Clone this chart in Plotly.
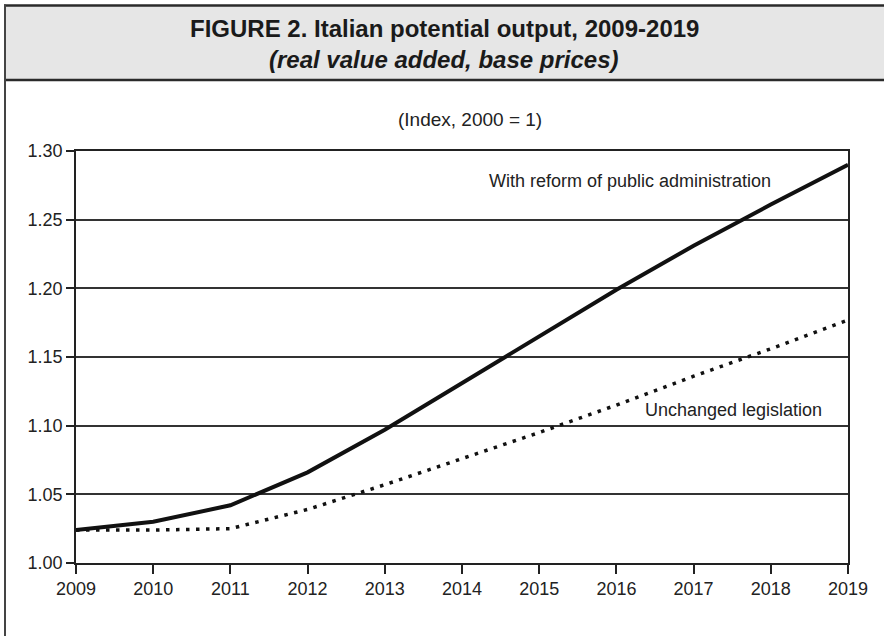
import plotly.graph_objects as go

years = [2009, 2010, 2011, 2012, 2013, 2014, 2015, 2016, 2017, 2018, 2019]
with_reform = [1.024, 1.030, 1.042, 1.066, 1.097, 1.131, 1.165, 1.199, 1.231, 1.261, 1.290]
unchanged = [1.024, 1.024, 1.025, 1.039, 1.057, 1.076, 1.095, 1.115, 1.136, 1.156, 1.177]
y_ticks = [1.00, 1.05, 1.10, 1.15, 1.20, 1.25, 1.30]

title_text = "FIGURE 2. Italian potential output, 2009-2019"
subtitle_text = "(real value added, base prices)"
unit_text = "(Index, 2000 = 1)"
label_reform = "With reform of public administration"
label_unchanged = "Unchanged legislation"

W, H = 884, 636
L, R, T, B = 76, 36, 151, 73
pw, ph = W - L - R, H - T - B

def px(x):
    return (x - L) / pw

def py(y):
    return (H - B - y) / ph

FONT = "Liberation Sans, Arial, sans-serif"
INK = "#111111"

fig = go.Figure()
fig.add_trace(go.Scatter(x=years, y=with_reform, mode="lines",
                         line=dict(color=INK, width=4), showlegend=False,
                         name=label_reform))
fig.add_trace(go.Scatter(x=years, y=unchanged, mode="lines",
                         line=dict(color=INK, width=3.5, dash="3.5px,6.5px"),
                         showlegend=False, name=label_unchanged))

shapes = [
    dict(type="rect", xref="paper", yref="paper", x0=px(5), x1=px(W + 5), y0=py(80), y1=py(5.5),
         fillcolor="#e6e6e6", line=dict(width=0), layer="below"),
    dict(type="line", xref="paper", yref="paper", x0=px(4), x1=px(W + 5), y0=py(5.5), y1=py(5.5),
         line=dict(color="#2a2a2a", width=2.5)),
    dict(type="line", xref="paper", yref="paper", x0=px(4), x1=px(W + 5), y0=py(80), y1=py(80),
         line=dict(color="#2a2a2a", width=2.5)),
    dict(type="line", xref="paper", yref="paper", x0=px(5), x1=px(5), y0=py(4.5), y1=py(H + 5),
         line=dict(color="#444444", width=2)),
]

annotations = [
    dict(text="<b>" + title_text + "</b>", xref="paper", yref="paper", x=px(444), y=py(29),
         showarrow=False, font=dict(family=FONT, size=24, color="#1a1a1a"),
         xanchor="center", yanchor="middle"),
    dict(text="<b><i>" + subtitle_text + "</i></b>", xref="paper", yref="paper", x=px(444), y=py(59),
         showarrow=False, font=dict(family=FONT, size=24, color="#1a1a1a"),
         xanchor="center", yanchor="middle"),
    dict(text=unit_text, xref="paper", yref="paper", x=px(469.5), y=py(120),
         showarrow=False, font=dict(family=FONT, size=19, color="#222222"),
         xanchor="center", yanchor="middle"),
    dict(text=label_reform, xref="x", yref="y", x=2018.03, y=1.2785,
         showarrow=False, font=dict(family=FONT, size=18, color="#222222"),
         xanchor="right", yanchor="middle"),
    dict(text=label_unchanged, xref="x", yref="y", x=2016.34, y=1.1117,
         showarrow=False, font=dict(family=FONT, size=18, color="#222222"),
         xanchor="left", yanchor="middle"),
]

fig.update_layout(
    width=W, height=H, autosize=False,
    margin=dict(l=L, r=R, t=T, b=B),
    paper_bgcolor="white", plot_bgcolor="white",
    shapes=shapes, annotations=annotations,
    hovermode=False,
    font=dict(family=FONT, size=18, color="#222222"),
    xaxis=dict(range=[2009, 2019], tickvals=years, ticktext=[str(y) for y in years],
               ticks="outside", ticklen=9, tickwidth=1.5, tickcolor="#222222",
               showline=True, linecolor="#222222", linewidth=1.5, mirror=True,
               showgrid=False, zeroline=False, fixedrange=True,
               tickfont=dict(family=FONT, size=18, color="#222222")),
    yaxis=dict(range=[1.00, 1.30], tickvals=y_ticks, ticktext=["%.2f" % v for v in y_ticks],
               ticks="outside", ticklen=8, tickwidth=1.5, tickcolor="#222222",
               showline=True, linecolor="#222222", linewidth=1.5, mirror=True,
               showgrid=True, gridcolor="#333333", gridwidth=1.5, zeroline=False, fixedrange=True,
               tickfont=dict(family=FONT, size=18, color="#222222")),
)

fig.write_html("out.html", config={"displayModeBar": False},
               post_script="document.body.style.margin='0';document.body.style.overflow='hidden';")
